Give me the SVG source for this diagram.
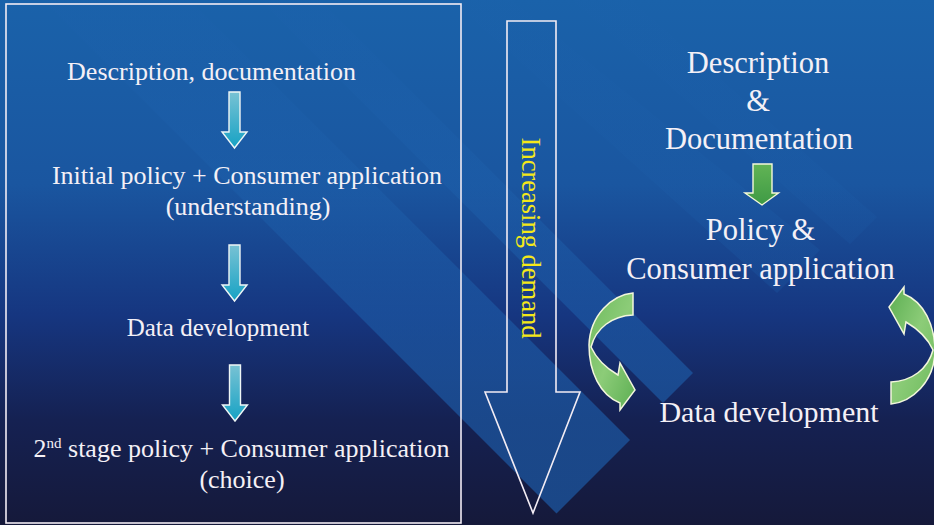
<svg xmlns="http://www.w3.org/2000/svg" xmlns:xlink="http://www.w3.org/1999/xlink" width="934" height="525" viewBox="0 0 934 525" font-family="Liberation Serif, Times New Roman, serif">
  <defs>
    <style>
      .lbl { fill: #f4f0f6; text-anchor: middle; }
      .sm { font-size: 26px; }
      .lg { font-size: 30.5px; }
      .demand { font-size: 26.5px; fill: #f4e81a; text-anchor: middle; }
      .frame { fill: none; stroke: #f2ecf4; stroke-width: 1.6; }
      .band { fill: url(#bandFill); }
      .teal { fill: url(#tealFill); stroke: #eef6f6; stroke-width: 1.4; stroke-linejoin: miter; }
      .green { fill: url(#greenFill); stroke: #f4f8d8; stroke-width: 1.4; stroke-linejoin: miter; }
      .curl { fill: url(#curlFill); stroke: #f2f6dc; stroke-width: 1.5; stroke-linejoin: miter; }
    </style>
    <linearGradient id="sky" x1="0" y1="0" x2="0" y2="1">
      <stop offset="0" stop-color="#1a62aa"/>
      <stop offset="0.35" stop-color="#1a56a0"/>
      <stop offset="0.6" stop-color="#163680"/>
      <stop offset="0.8" stop-color="#152152"/>
      <stop offset="1" stop-color="#15193a"/>
    </linearGradient>
    <!-- bands fade out towards the top where the backdrop is already light -->
    <linearGradient id="bandFill" gradientUnits="userSpaceOnUse" x1="0" y1="0" x2="0" y2="525">
      <stop offset="0" stop-color="#1e62ae" stop-opacity="0.15"/>
      <stop offset="0.4" stop-color="#1e62ae" stop-opacity="0.4"/>
      <stop offset="0.7" stop-color="#1d5ca8" stop-opacity="0.65"/>
      <stop offset="1" stop-color="#1c56a0" stop-opacity="0.75"/>
    </linearGradient>
    <linearGradient id="tealFill" x1="0" y1="0" x2="0" y2="1">
      <stop offset="0" stop-color="#78c2d4"/>
      <stop offset="1" stop-color="#16a2c4"/>
    </linearGradient>
    <linearGradient id="greenFill" x1="0" y1="0" x2="0" y2="1">
      <stop offset="0" stop-color="#62b455"/>
      <stop offset="1" stop-color="#3e9a45"/>
    </linearGradient>
    <linearGradient id="curlFill" x1="0" y1="0" x2="1" y2="1">
      <stop offset="0" stop-color="#6fbb5e"/>
      <stop offset="0.5" stop-color="#8ccc78"/>
      <stop offset="1" stop-color="#5cae52"/>
    </linearGradient>
    <!-- short downward block arrow, tip 56 below the top of its shaft -->
    <path id="down" d="M-5.5 0 H5.5 V40 H12.5 L0 56 L-12.5 40 H-5.5 Z"/>
    <!-- C-shaped curved arrow: flat end at top right, head pointing right at the bottom -->
    <path id="curl" d="M633 293 C612 295 590 315 589 345 C589 372 600 395 620 403 L620 410 L635 390 L620 363 L618 375 C606 368 596 358 591 347 C596 328 612 316 633 315 Z"/>
  </defs>

  <!-- backdrop with diagonal light bands -->
  <g id="background">
    <rect x="0" y="0" width="934" height="525" fill="url(#sky)"/>
    <polygon class="band" points="180,-10 630,440 556.5,513.5 33,-10"/>
    <polygon class="band" points="310,-10 693,373 663,403 250,-10"/>
    <polygon class="band" points="500,-10 820,250 777,293 440,-10" opacity="0.5"/>
    <polygon class="band" points="620,-10 877,217 850,244 560,-10" opacity="0.4"/>
  </g>

  <!-- left panel frame -->
  <g id="left-panel">
    <rect class="frame" x="6" y="4" width="455" height="519"/>
  </g>

  <!-- left column steps -->
  <g id="l-description">
    <text class="lbl sm" x="211.5" y="80">Description, documentation</text>
  </g>
  <g id="l-initial-policy">
    <text class="lbl sm" x="247" y="184">Initial policy + Consumer application</text>
    <text class="lbl sm" x="248" y="215">(understanding)</text>
  </g>
  <g id="l-data">
    <text class="lbl sm" x="218" y="336" style="font-size:25px">Data development</text>
  </g>
  <g id="l-second-stage">
    <text class="lbl sm" x="241.5" y="457">2<tspan dy="-9" font-size="15">nd</tspan><tspan dy="9"> stage policy + Consumer application</tspan></text>
    <text class="lbl sm" x="242" y="488">(choice)</text>
  </g>

  <!-- right column steps -->
  <g id="r-description">
    <text class="lbl lg" x="758" y="73">Description</text>
    <text class="lbl lg" x="758" y="111">&amp;</text>
    <text class="lbl lg" x="759" y="149">Documentation</text>
  </g>
  <g id="r-policy">
    <text class="lbl lg" x="760.5" y="240">Policy &amp;</text>
    <text class="lbl lg" x="760.5" y="279">Consumer application</text>
  </g>
  <g id="r-data">
    <text class="lbl lg" x="769" y="422" style="font-size:30px">Data development</text>
  </g>

  <!-- demand arrow -->
  <g id="demand">
    <polygon class="frame" points="507,21 556,21 556,392 580,392 533,513 485,392 507,392"/>
    <text class="demand" transform="translate(521.5,238) rotate(90)">Increasing demand</text>
  </g>

  <g id="connectors">
    <use xlink:href="#down" class="teal" x="234.5" y="92"/>
    <use xlink:href="#down" class="teal" x="234.5" y="245"/>
    <use xlink:href="#down" class="teal" x="235" y="365"/>
    <path class="green" d="M753 164 H772 V193 H778.5 L762 205 L745 193 H753 Z"/>
    <use xlink:href="#curl" class="curl"/>
    <use xlink:href="#curl" class="curl" transform="rotate(180 762 348.5)"/>
  </g>
</svg>
